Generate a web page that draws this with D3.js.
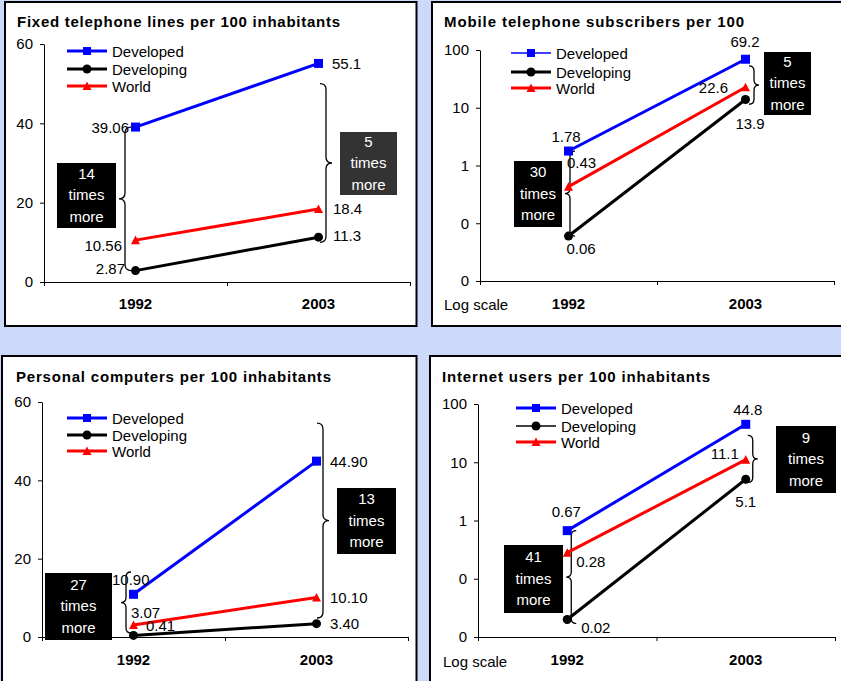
<!DOCTYPE html>
<html>
<head>
<meta charset="utf-8">
<script src="https://cdn.jsdelivr.net/npm/d3@7"></script>
<style>
  html, body { margin: 0; padding: 0; background: #ccd9fb; }
  svg { display: block; }
  text { font-family: "Liberation Sans", Arial, sans-serif; }
</style>
</head>
<body>
<svg id="chart" width="841" height="681"></svg>
<script>
// ---- data ----
const years = ["1992", "2003"];
const seriesNames = ["Developed", "Developing", "World"];

const fixedDeveloped = [39.06, 55.1];
const fixedDeveloping = [2.87, 11.3];
const fixedWorld = [10.56, 18.4];

const mobileDeveloped = [1.78, 69.2];
const mobileDeveloping = [0.06, 13.9];
const mobileWorld = [0.43, 22.6];

const pcDeveloped = [10.90, 44.90];
const pcDeveloping = [0.41, 3.40];
const pcWorld = [3.07, 10.10];

const netDeveloped = [0.67, 44.8];
const netDeveloping = [0.02, 5.1];
const netWorld = [0.28, 11.1];

const linearTicks = [0, 20, 40, 60];
const logTicks = [0.01, 0.1, 1, 10, 100];
const logTickLabels = ["0", "0", "1", "10", "100"];

const fixedRatios = ["14", "5"];
const mobileRatios = ["30", "5"];
const pcRatios = ["27", "13"];
const netRatios = ["41", "9"];

// ---- styling ----
const seriesColors = ["#0000ff", "#000000", "#ff0000"];
const FONT = 15;

const panels = [
  {
    title: "Fixed telephone lines per 100 inhabitants", titleX: 17, titleY: 21, titleW: 323,
    frame: [5, 2, 411.5, 324],
    xRange: [44, 410], yRange: [282, 44], log: false, domain: [0, 60],
    series: [fixedDeveloped, fixedDeveloping, fixedWorld],
    fmt: v => String(v),
    legendX: 67, legendY: [51, 69, 86], legendW: [3, 3, 3],
    yearY: 303, logLabel: null,
    labels: [
      [[-6.5, 0, "end"], [13.5, 0, "start"]],
      [[-10.5, -2, "end"], [14.5, -2, "start"]],
      [[-13.5, 5, "end"], [14.5, -1, "start"]]
    ],
    ratios: fixedRatios,
    boxes: [[57, 163, 59, 65, "#000000"], [340, 132, 57, 63, "#333333"]],
    braces: [[0, -10.5, 39.06, 2.87, -1, 6], [1, 7.5, 50, 10, 1, 6]]
  },
  {
    title: "Mobile telephone subscribers per 100", titleX: 444, titleY: 21, titleW: 300,
    frame: [432, 2, 430, 324],
    xRange: [480, 834], yRange: [281, 50], log: true, domain: [0.01, 100],
    series: [mobileDeveloped, mobileDeveloping, mobileWorld],
    fmt: v => String(v),
    legendX: 511, legendY: [53, 72, 88], legendW: [1.5, 3, 3],
    yearY: 303, logLabel: [444, 304],
    labels: [
      [[-2.5, -14.5, "middle"], [-0.5, -18, "middle"]],
      [[12.5, 12, "middle"], [4.5, 24, "middle"]],
      [[-1.5, -24, "start"], [-17.5, 0, "end"]]
    ],
    ratios: mobileRatios,
    boxes: [[514, 161, 48, 66, "#000000"], [764, 52, 47, 63, "#000000"]],
    braces: [[0, 1.5, 1.78, 0.06, -1, 5], [1, 8.5, 53, 11.5, 1, 5]]
  },
  {
    title: "Personal computers per 100 inhabitants", titleX: 16, titleY: 376, titleW: 315,
    frame: [2, 356, 414.5, 400],
    xRange: [42, 408], yRange: [637, 402], log: false, domain: [0, 60],
    series: [pcDeveloped, pcDeveloping, pcWorld],
    fmt: v => v.toFixed(2),
    legendX: 67, legendY: [418, 435, 451], legendW: [3, 3, 3],
    yearY: 659, logLabel: null,
    labels: [
      [[-21.5, -15, "start"], [13.5, 0, "start"]],
      [[12.5, -10, "start"], [13.5, 0, "start"]],
      [[-2.5, -12, "start"], [13.5, 0, "start"]]
    ],
    ratios: pcRatios,
    boxes: [[45, 573, 67, 67, "#000000"], [337, 488, 59, 66, "#000000"]],
    braces: [[0, -7.5, 16.6, 1.0, -1, 5], [1, 6.5, 54.6, 4.85, 1, 6]]
  },
  {
    title: "Internet users per 100 inhabitants", titleX: 442, titleY: 376, titleW: 268,
    frame: [430, 356, 430, 400],
    xRange: [478, 835], yRange: [637, 404], log: true, domain: [0.01, 100],
    series: [netDeveloped, netDeveloping, netWorld],
    fmt: v => String(v),
    legendX: 516, legendY: [408, 426, 442], legendW: [3, 1.5, 3],
    yearY: 659, logLabel: [443, 661],
    labels: [
      [[-1, -19, "middle"], [2, -15, "middle"]],
      [[14, 8, "start"], [0, 22, "middle"]],
      [[9, 9, "start"], [-7, -6, "end"]]
    ],
    ratios: netRatios,
    boxes: [[504, 545, 59, 68, "#000000"], [776, 426, 60, 67, "#000000"]],
    braces: [[0, 4, 0.67, 0.017, -1, 5], [1, 7, 29, 4.5, 1, 5]]
  }
];

const svg = d3.select("#chart");

// marker shapes: square, circle, triangle
function drawMarker(g, kind, x, y, size, color) {
  if (kind === 0) {
    g.append("rect").attr("x", x - size / 2).attr("y", y - size / 2)
      .attr("width", size).attr("height", size).attr("fill", color);
  } else if (kind === 1) {
    g.append("circle").attr("cx", x).attr("cy", y).attr("r", size / 2).attr("fill", color);
  } else {
    const h = size * 0.9;
    g.append("path")
      .attr("d", `M${x},${y - h / 2 - 0.5}L${x + size / 2},${y + h / 2}L${x - size / 2},${y + h / 2}Z`)
      .attr("fill", color);
  }
}

// vertical curly brace; dir = -1 points left, +1 points right
function bracePath(s, y1, y2, d, q) {
  const a = Math.min(y1, y2), b = Math.max(y1, y2), m = (a + b) / 2;
  return `M${s - d * q},${a} Q${s},${a} ${s},${a + q} L${s},${m - q} ` +
         `Q${s},${m} ${s + d * q},${m} Q${s},${m} ${s},${m + q} ` +
         `L${s},${b - q} Q${s},${b} ${s - d * q},${b}`;
}

panels.forEach(p => {
  const g = svg.append("g");

  // frame
  g.append("rect")
    .attr("x", p.frame[0]).attr("y", p.frame[1])
    .attr("width", p.frame[2]).attr("height", p.frame[3])
    .attr("fill", "#ffffff").attr("stroke", "#000000").attr("stroke-width", 2);

  // title
  g.append("text")
    .attr("x", p.titleX).attr("y", p.titleY)
    .attr("dominant-baseline", "central")
    .attr("font-size", FONT).attr("font-weight", "bold")
    .attr("textLength", p.titleW).attr("lengthAdjust", "spacing")
    .text(p.title);

  // scales
  const x = d3.scaleBand().domain(years).range(p.xRange).paddingInner(0).paddingOuter(0);
  const xEdges = d3.scaleLinear().domain([0, years.length]).range(p.xRange);
  const y = (p.log ? d3.scaleLog() : d3.scaleLinear()).domain(p.domain).range(p.yRange);
  const cx = yr => x(yr) + x.bandwidth() / 2;

  // y axis
  const yAxis = d3.axisLeft(y).tickSizeInner(4).tickSizeOuter(0).tickPadding(7);
  if (p.log) {
    yAxis.tickValues(logTicks).tickFormat((d, i) => logTickLabels[i]);
  } else {
    yAxis.tickValues(linearTicks).tickFormat(d3.format("d"));
  }
  const ya = g.append("g").attr("transform", `translate(${p.xRange[0]},0)`).call(yAxis);
  ya.selectAll("text").attr("font-size", FONT).attr("fill", "#000").attr("font-family", null);
  ya.selectAll("line,path").attr("stroke", "#000");

  // x axis: tick marks at band edges
  const xAxis = d3.axisBottom(xEdges).tickValues(d3.range(years.length + 1))
    .tickSizeInner(4).tickSizeOuter(0).tickFormat("");
  const xa = g.append("g").attr("transform", `translate(0,${p.yRange[0]})`).call(xAxis);
  xa.selectAll("line,path").attr("stroke", "#000");

  // year labels
  g.selectAll(null).data(years).join("text")
    .attr("x", d => cx(d)).attr("y", p.yearY)
    .attr("text-anchor", "middle").attr("dominant-baseline", "central")
    .attr("font-size", FONT).attr("font-weight", "bold")
    .text(d => d);

  if (p.logLabel) {
    g.append("text").attr("x", p.logLabel[0]).attr("y", p.logLabel[1])
      .attr("dominant-baseline", "central").attr("font-size", FONT)
      .text("Log scale");
  }

  // braces
  p.braces.forEach(b => {
    const s = cx(years[b[0]]) + b[1];
    g.append("path")
      .attr("d", bracePath(s, y(b[2]), y(b[3]), b[4], b[5]))
      .attr("fill", "none").attr("stroke", "#000").attr("stroke-width", 1.3);
  });

  // series lines and markers
  const line = d3.line().x((d, i) => cx(years[i])).y(d => y(d));
  p.series.forEach((vals, si) => {
    g.append("path").datum(vals).attr("d", line)
      .attr("fill", "none").attr("stroke", seriesColors[si]).attr("stroke-width", 3);
  });
  p.series.forEach((vals, si) => {
    vals.forEach((v, i) => drawMarker(g, si, cx(years[i]), y(v), 9, seriesColors[si]));
  });

  // value labels
  p.series.forEach((vals, si) => {
    vals.forEach((v, i) => {
      const l = p.labels[si][i];
      g.append("text")
        .attr("x", cx(years[i]) + l[0]).attr("y", y(v) + l[1])
        .attr("text-anchor", l[2]).attr("dominant-baseline", "central")
        .attr("font-size", FONT).text(p.fmt(v));
    });
  });

  // ratio boxes
  p.boxes.forEach((bx, bi) => {
    g.append("rect").attr("x", bx[0]).attr("y", bx[1])
      .attr("width", bx[2]).attr("height", bx[3]).attr("fill", bx[4]);
    const lines = [p.ratios[bi], "times", "more"];
    const mid = bx[1] + bx[3] / 2 - 1;
    lines.forEach((t, k) => {
      g.append("text")
        .attr("x", bx[0] + bx[2] / 2).attr("y", mid + (k - 1) * 21.5)
        .attr("text-anchor", "middle").attr("dominant-baseline", "central")
        .attr("font-size", FONT).attr("fill", "#ffffff").text(t);
    });
  });

  // legend
  seriesNames.forEach((name, si) => {
    const ly = p.legendY[si];
    g.append("line").attr("x1", p.legendX).attr("x2", p.legendX + 40)
      .attr("y1", ly).attr("y2", ly)
      .attr("stroke", seriesColors[si]).attr("stroke-width", p.legendW[si]);
    drawMarker(g, si, p.legendX + 20, ly, si === 0 ? 8 : 9, seriesColors[si]);
    g.append("text").attr("x", p.legendX + 45).attr("y", ly)
      .attr("dominant-baseline", "central").attr("font-size", FONT).text(name);
  });
});
</script>
</body>
</html>
